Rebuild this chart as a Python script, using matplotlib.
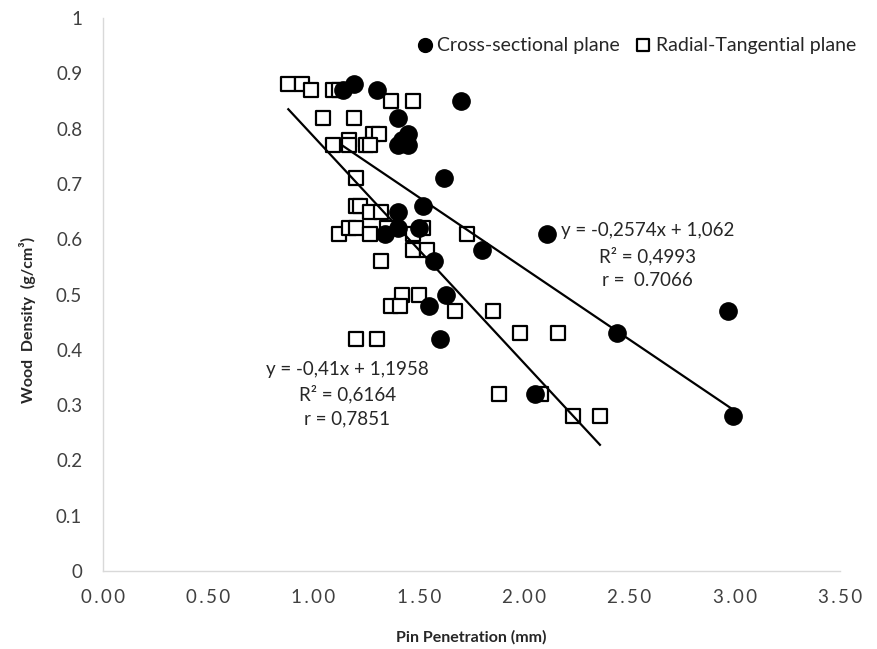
import matplotlib
matplotlib.use("Agg")
import matplotlib.pyplot as plt
import numpy as np

plt.rcParams['font.family'] = ['Lato', 'DejaVu Sans']

# Cross-sectional plane (filled circles)
cross_x = [1.19, 1.14, 1.30, 1.70, 1.40, 1.45, 1.42, 1.40, 1.45, 1.62, 1.52, 1.40, 1.50,
           1.40, 1.34, 2.11, 1.80, 1.57, 1.63, 1.55, 1.60, 2.97, 2.44, 2.05, 2.99]
cross_y = [0.88, 0.87, 0.87, 0.85, 0.82, 0.79, 0.78, 0.77, 0.77, 0.71, 0.66, 0.65, 0.62,
           0.62, 0.61, 0.61, 0.58, 0.56, 0.50, 0.48, 0.42, 0.47, 0.43, 0.32, 0.28]

# Radial-Tangential plane (open squares)
rad_x = [0.88, 0.945, 0.99, 1.09, 1.12, 1.37, 1.47, 1.045, 1.19, 1.28, 1.31, 1.09, 1.17,
         1.17, 1.25, 1.27, 1.20, 1.20, 1.22, 1.27, 1.32, 1.12, 1.17, 1.20, 1.27, 1.35,
         1.47, 1.52, 1.73, 1.47, 1.54, 1.32, 1.42, 1.50, 1.37, 1.41, 1.67, 1.85, 1.98,
         2.16, 1.20, 1.30, 1.88, 2.08, 2.23, 2.36]
rad_y = [0.88, 0.88, 0.87, 0.87, 0.87, 0.85, 0.85, 0.82, 0.82, 0.79, 0.79, 0.77, 0.78,
         0.77, 0.77, 0.77, 0.71, 0.66, 0.66, 0.65, 0.65, 0.61, 0.62, 0.62, 0.61, 0.62,
         0.61, 0.62, 0.61, 0.58, 0.58, 0.56, 0.50, 0.50, 0.48, 0.48, 0.47, 0.47, 0.43,
         0.43, 0.42, 0.42, 0.32, 0.32, 0.28, 0.28]

# Trendline coefficients (slope, intercept)
cross_fit = (-0.2574, 1.062)
rad_fit = (-0.41, 1.1958)

cross_eq = ["y = -0,2574x + 1,062", "R\u00b2 = 0,4993", "r =  0.7066"]
rad_eq = ["y = -0,41x + 1,1958", "R\u00b2 = 0,6164", "r = 0,7851"]

x_ticks = [0.0, 0.5, 1.0, 1.5, 2.0, 2.5, 3.0, 3.5]
y_ticks = [0, 0.1, 0.2, 0.3, 0.4, 0.5, 0.6, 0.7, 0.8, 0.9, 1]

fig = plt.figure(figsize=(8.77, 6.49), dpi=100)
ax = fig.add_axes([103/877, 1 - 571/649, (840 - 103)/877, (571 - 18)/649])

ax.scatter(rad_x, rad_y, marker='s', s=105, facecolor='white', edgecolor='black',
           linewidths=1.6, zorder=3, label='Radial-Tangential plane')
ax.scatter(cross_x, cross_y, marker='o', s=155, facecolor='black', edgecolor='black',
           zorder=4, label='Cross-sectional plane')

for xs, (m, b) in ((cross_x, cross_fit), (rad_x, rad_fit)):
    xx = np.array([min(xs), max(xs)])
    ax.plot(xx, m * xx + b, color='black', lw=1.6, zorder=5)

ax.set_xlim(0, 3.5)
ax.set_ylim(0, 1)
ax.set_xticks(x_ticks)
ax.set_xticklabels(['\u2009'.join(f"{v:.2f}") for v in x_ticks], fontsize=13.5, color='#404040')
ax.set_yticks(y_ticks)
ax.set_yticklabels([("1" if v == 1 else ("0" if v == 0 else f"{v:.1f}")) for v in y_ticks],
                   fontsize=13.5, color='#404040')
ax.tick_params(length=0)
ax.tick_params(axis='x', pad=13)
ax.tick_params(axis='y', pad=15)
for s in ('top', 'right'):
    ax.spines[s].set_visible(False)
for s in ('left', 'bottom'):
    ax.spines[s].set_color('#d9d9d9')
    ax.spines[s].set_linewidth(1)

ax.set_xlabel('Pin Penetration (mm)', fontsize=11.5, fontweight='bold', color='#262626', labelpad=17)
ax.set_ylabel('Wood  Density  (g/cm\u00b3)', fontsize=11.5, fontweight='bold', color='#262626')
ax.yaxis.set_label_coords((36 - 103) / 737, (571 - 320) / 553)

for i, t in enumerate(cross_eq):
    ax.text(2.585, 0.615 - i * 0.045, t, ha='center', va='center', fontsize=13.5, color='#262626')
for i, t in enumerate(rad_eq):
    ax.text(1.16, 0.365 - i * 0.045, t, ha='center', va='center', fontsize=13.5, color='#262626')

h, l = ax.get_legend_handles_labels()
leg = ax.legend([h[1], h[0]], [l[1], l[0]], loc='center left',
                bbox_to_anchor=((415 - 103) / 737, (571 - 45) / 553),
                ncol=2, frameon=False, fontsize=14, handletextpad=0.15, columnspacing=0.7,
                markerscale=0.8, handlelength=1.0, borderpad=0, borderaxespad=0)
for t in leg.get_texts():
    t.set_color('#262626')

fig.savefig('out.png', dpi=100)
